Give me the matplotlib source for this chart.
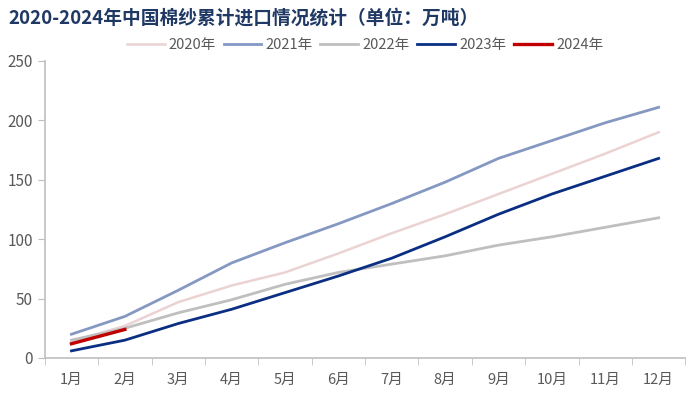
import numpy as np
import matplotlib.pyplot as plt

plt.rcParams['font.family'] = ['Noto Sans CJK SC', 'DejaVu Sans']

# cumulative cotton yarn imports, 10k tonnes
months = ['1月', '2月', '3月', '4月', '5月', '6月', '7月', '8月', '9月', '10月', '11月', '12月']
y2020 = [14, 27, 47, 61, 72, 88, 105, 121, 138, 155, 172, 190]
y2021 = [20, 35, 57, 80, 97, 113, 130, 148, 168, 183, 198, 211]
y2022 = [15, 25, 38, 49, 62, 72, 79, 86, 95, 102, 110, 118]
y2023 = [6, 15, 29, 41, 55, 69, 84, 102, 121, 138, 153, 168]
y2024 = [12, 24]

series = [('2020年', y2020, '#EBD3D3', 1.8),
          ('2021年', y2021, '#8498C2', 2.0),
          ('2022年', y2022, '#BFBFBF', 2.0),
          ('2023年', y2023, '#0A2F82', 2.0),
          ('2024年', y2024, '#C00000', 2.4)]

fig = plt.figure(figsize=(7, 3.96), dpi=100)
ax = fig.add_axes([0.064, 0.096, 0.915, 0.75])

x = np.arange(len(months))
for name, vals, col, lw in series:
    ax.plot(x[:len(vals)], vals, color=col, lw=lw, label=name)

ax.set_xlim(-0.5, 11.5)
ax.set_ylim(0, 250)
ax.set_yticks(range(0, 251, 50))
ax.set_xticks(x)
ax.set_xticklabels(months)
ax.set_xticks(np.arange(-0.5, 12, 1), minor=True)
ax.tick_params(axis='x', which='major', length=0, pad=11, labelsize=10.5, labelcolor='#595959')
ax.tick_params(axis='x', which='minor', length=5, color='#BFBFBF', direction='out')
ax.tick_params(axis='y', length=5, color='#BFBFBF', labelsize=11, labelcolor='#595959')
for s in ['top', 'right']:
    ax.spines[s].set_visible(False)
for s in ['left', 'bottom']:
    ax.spines[s].set_color('#BFBFBF')
    ax.spines[s].set_linewidth(1.2)

ax.legend(loc='lower center', bbox_to_anchor=(0.5, 1.0), ncol=5, frameon=False,
          fontsize=10.5, labelcolor='#595959', handlelength=2.6, columnspacing=0.5,
          handletextpad=0.3, borderaxespad=0.2)

fig.text(0.012, 0.955, '2020-2024年中国棉纱累计进口情况统计（单位：万吨）',
         fontsize=13.5, fontweight='bold', color='#1F3864', va='center')

fig.savefig('out.png', dpi=100)
